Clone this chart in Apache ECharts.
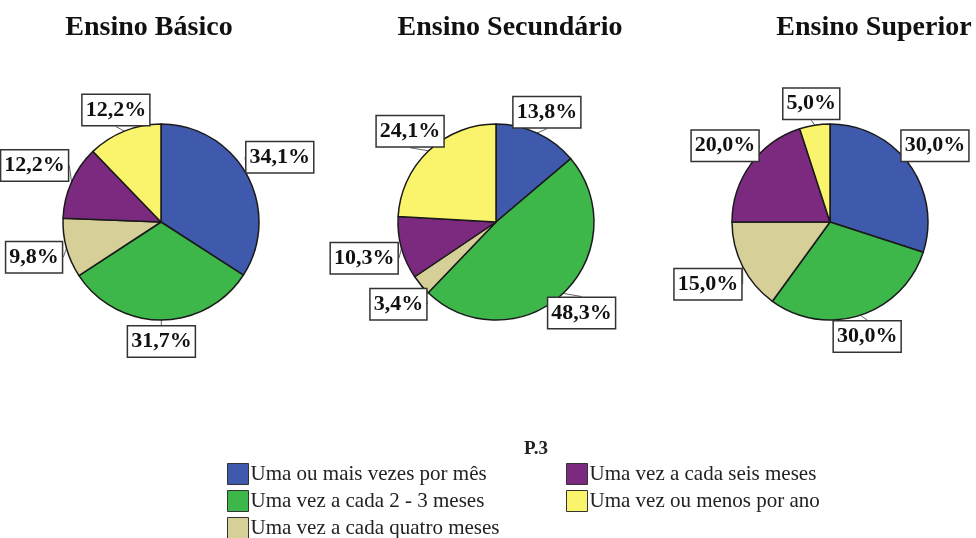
<!DOCTYPE html>
<html>
<head>
<meta charset="utf-8">
<script src="https://cdn.jsdelivr.net/npm/echarts@6/dist/echarts.min.js"></script>
<style>
  html, body { margin: 0; padding: 0; background: #fff; }
  #main { width: 976px; height: 538px; }
</style>
</head>
<body>
<div id="main"></div>
<script>
// categories (legend order)
const categories = [
    'Uma ou mais vezes por mês',
    'Uma vez a cada 2 - 3 meses',
    'Uma vez a cada quatro meses',
    'Uma vez a cada seis meses',
    'Uma vez ou menos por ano'
];
const colors = ['#3f59ad', '#3db64a', '#d6cf98', '#7b2a7f', '#faf46c'];

const panelTitles = ['Ensino Básico', 'Ensino Secundário', 'Ensino Superior'];

// percentages per panel
const basico = [34.1, 31.7, 9.8, 12.2, 12.2];
const secundario = [13.8, 48.3, 3.4, 10.3, 24.1];
const superior = [30.0, 30.0, 15.0, 20.0, 5.0];

const legendTitle = 'P.3';

const serif = '"Liberation Serif", "DejaVu Serif", serif';

function buildData(values) {
    return values.map((v, i) => ({
        name: categories[i],
        value: v,
        itemStyle: { color: colors[i] }
    }));
}

// put each box centered along the slice direction, just outside the pie
// (boxes may overlap the rim a little, like the SPSS output)
function boxLayout(params) {
    const pts = params.labelLinePoints;
    if (!pts) return {};
    const p0 = pts[0], p1 = pts[1];
    let dx = p1[0] - p0[0], dy = p1[1] - p0[1];
    const len = Math.sqrt(dx * dx + dy * dy) || 1;
    dx /= len; dy /= len;
    const w = params.labelRect.width / 2, h = params.labelRect.height / 2;
    const t = 0.88 * Math.min(Math.abs(dx) > 1e-3 ? w / Math.abs(dx) : 1e9,
                              Math.abs(dy) > 1e-3 ? h / Math.abs(dy) : 1e9);
    return {
        x: p1[0] + dx * t,
        y: p1[1] + dy * t,
        align: 'center',
        verticalAlign: 'middle'
    };
}

function pieSeries(values, center) {
    return {
        type: 'pie',
        radius: 98,
        center: center,
        startAngle: 90,
        clockwise: true,
        animation: false,
        silent: true,
        data: buildData(values),
        itemStyle: { borderColor: '#1a1a1a', borderWidth: 1.5 },
        label: {
            show: true,
            position: 'outside',
            overflow: 'none',
            bleedMargin: -200,
            formatter: (p) => p.value.toFixed(1).replace('.', ',') + '%',
            fontFamily: serif,
            fontWeight: 'bold',
            fontSize: 22,
            color: '#111',
            lineHeight: 27,
            backgroundColor: '#fff',
            borderColor: '#333',
            borderWidth: 1.5,
            padding: [2, 3, 1, 3]
        },
        labelLine: {
            show: true,
            length: 7,
            length2: 0,
            lineStyle: { color: '#666', width: 1 }
        },
        labelLayout: boxLayout
    };
}

const chart = echarts.init(document.getElementById('main'), null, { renderer: 'canvas' });

const legendCommon = {
    orient: 'vertical',
    icon: 'rect',
    padding: 0,
    height: 100,
    itemWidth: 21,
    itemHeight: 21,
    itemGap: 5,
    selectedMode: false,
    itemStyle: { borderColor: '#333', borderWidth: 1 },
    textStyle: { fontFamily: serif, fontSize: 21, lineHeight: 21, color: '#222', padding: [0, 0, 0, -3] }
};

chart.setOption({
    backgroundColor: '#fff',
    title: [
        { text: panelTitles[0], left: 144, top: 9, textAlign: 'center' },
        { text: panelTitles[1], left: 505, top: 9, textAlign: 'center' },
        { text: panelTitles[2], left: 869, top: 9, textAlign: 'center' },
        { text: legendTitle, left: 531, top: 435, textAlign: 'center',
          textStyle: { fontFamily: serif, fontWeight: 'bold', fontSize: 19, color: '#222' } }
    ].map((t, i) => i < 3 ? Object.assign(t, {
        textStyle: { fontFamily: serif, fontWeight: 'bold', fontSize: 28, color: '#111' }
    }) : t),
    legend: [
        Object.assign({}, legendCommon, {
            left: 227, top: 463,
            data: categories.slice(0, 3)
        }),
        Object.assign({}, legendCommon, {
            left: 566, top: 463,
            data: categories.slice(3)
        })
    ],
    series: [
        pieSeries(basico, [161, 222]),
        pieSeries(secundario, [496, 222]),
        pieSeries(superior, [830, 222])
    ]
});
</script>
</body>
</html>
